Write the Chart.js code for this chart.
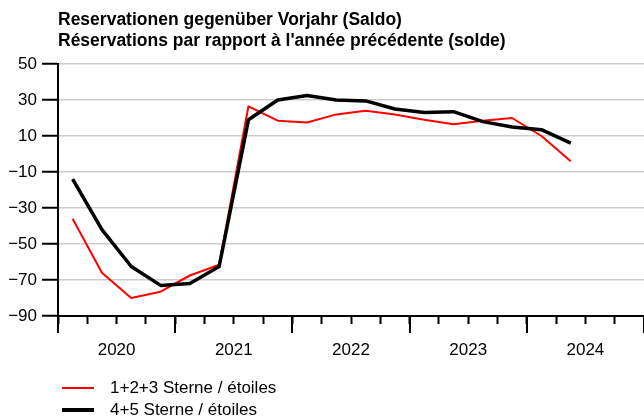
<!DOCTYPE html>
<html>
<head>
<meta charset="utf-8">
<script src="https://cdn.jsdelivr.net/npm/chart.js@4"></script>
<style>
  body { margin: 0; background: #fff; }
</style>
</head>
<body>
<canvas id="my-chart" width="644" height="417"></canvas>
<script>
'use strict';

// Chart data
let titleLines = ['Reservationen gegenüber Vorjahr (Saldo)', 'Réservations par rapport à l\'année précédente (solde)'];
let years = ['2020', '2021', '2022', '2023', '2024'];
let yTicks = [-90, -70, -50, -30, -10, 10, 30, 50];

// one value per quarter, starting 2020 Q1
let seriesNames = ['1+2+3 Sterne / étoiles', '4+5 Sterne / étoiles'];
let lowStars = [-36, -66, -80, -76.5, -67.5, -61.5, 26.5, 18.5, 17.5, 22, 24, 22, 19, 16.5, 18.5, 20, 10, -4];
let highStars = [-14, -42, -62.5, -73, -72, -62.5, 19, 30, 32.5, 30, 29.5, 25, 23, 23.5, 18, 15, 13.5, 6];

let quartersPerYear = 4;

function toPoints(values) {
  let points = [];
  for (let i = 0; i < values.length; i++) {
    // put each quarter in the middle of its slot
    points.push({ x: i + 0.5, y: values[i] });
  }
  return points;
}

Chart.defaults.font.family = '"Liberation Sans", Arial, sans-serif';
Chart.defaults.font.size = 17;
Chart.defaults.color = '#000';

// longer ticks at year boundaries + legend at the bottom
let extrasPlugin = {
  id: 'extras',
  afterDraw(chart) {
    let c = chart.ctx;
    let xScale = chart.scales.x;
    c.save();
    c.strokeStyle = '#000';
    c.lineWidth = 2;
    for (let v = 0; v <= years.length * quartersPerYear; v += quartersPerYear) {
      let px = Math.round(xScale.getPixelForValue(v));
      c.beginPath();
      c.moveTo(px, xScale.top);
      c.lineTo(px, xScale.top + 17);
      c.stroke();
    }

    let rows = [
      { name: seriesNames[0], color: '#ff0000', width: 2, y: 388 },
      { name: seriesNames[1], color: '#000000', width: 4, y: 410 }
    ];
    c.font = '17px "Liberation Sans", Arial, sans-serif';
    c.textBaseline = 'middle';
    c.textAlign = 'left';
    for (let i = 0; i < rows.length; i++) {
      c.strokeStyle = rows[i].color;
      c.lineWidth = rows[i].width;
      c.beginPath();
      c.moveTo(62, rows[i].y);
      c.lineTo(94, rows[i].y);
      c.stroke();
      c.fillStyle = '#000';
      c.fillText(rows[i].name, 110, rows[i].y);
    }
    c.restore();
  }
};

let ctx = document.getElementById('my-chart');

let chartObject = {
  type: 'line',
  data: {
    datasets: [{
      label: seriesNames[0],
      data: toPoints(lowStars),
      borderColor: '#ff0000',
      borderWidth: 2,
      pointRadius: 0,
      tension: 0,
      borderJoinStyle: 'round',
      order: 2
    },
    {
      label: seriesNames[1],
      data: toPoints(highStars),
      borderColor: '#000000',
      borderWidth: 3.5,
      pointRadius: 0,
      tension: 0,
      borderJoinStyle: 'round',
      order: 1
    }]
  },
  options: {
    responsive: false,
    animation: false,
    layout: {
      padding: { left: 0, right: 0, top: 0, bottom: 51 }
    },
    plugins: {
      legend: { display: false },
      tooltip: { enabled: false },
      title: {
        display: true,
        text: titleLines,
        align: 'start',
        fullSize: false,
        color: '#000',
        font: { size: 17.5, weight: 'bold', lineHeight: 1.2 },
        padding: { top: 10, bottom: 12 }
      }
    },
    scales: {
      x: {
        type: 'linear',
        min: 0,
        max: years.length * quartersPerYear,
        afterFit(scale) {
          scale.height = 50;
          // axis runs to the right edge of the canvas
          scale.paddingLeft = 0;
          scale.paddingRight = 0;
        },
        border: { color: '#000', width: 2 },
        grid: {
          drawOnChartArea: false,
          tickLength: 8,
          tickColor: '#000',
          tickWidth: 2
        },
        ticks: {
          stepSize: 1,
          autoSkip: false,
          maxRotation: 0,
          padding: 16,
          callback(value) {
            if (value % quartersPerYear === 2) {
              return years[(value - 2) / quartersPerYear];
            }
            return '';
          }
        }
      },
      y: {
        min: yTicks[0],
        max: yTicks[yTicks.length - 1],
        afterFit(scale) { scale.width = 58; },
        border: { color: '#000', width: 2 },
        grid: {
          color: '#cccccc',
          lineWidth: 1.5,
          tickLength: 16,
          tickColor: '#000',
          tickWidth: 2
        },
        ticks: {
          stepSize: 20,
          padding: 5,
          callback(value) {
            return value < 0 ? '\u2212' + Math.abs(value) : String(value);
          }
        }
      }
    }
  },
  plugins: [extrasPlugin]
};

const reservationsChart = new Chart(ctx, chartObject);
</script>
</body>
</html>
